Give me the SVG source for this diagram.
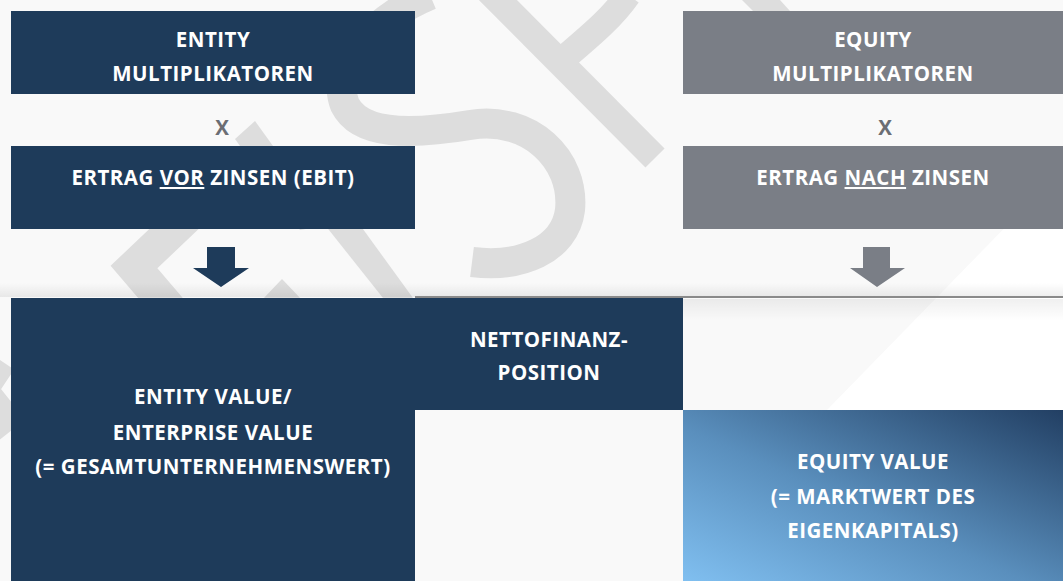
<svg xmlns="http://www.w3.org/2000/svg" width="1063" height="581" viewBox="0 0 1063 581">
<defs>
<style>
.dark{fill:#1e3b5a}
.gray{fill:#7a7e86}
.t{font-family:"Open Sans","Liberation Sans",sans-serif;font-weight:700;font-size:20.5px;letter-spacing:0.5px;fill:#ffffff;text-anchor:middle}
.x{font-family:"Open Sans","Liberation Sans",sans-serif;font-weight:700;font-size:20.5px;fill:#6b6e74;text-anchor:middle}
.wm{fill:none;stroke:#dddddd}
</style>
<linearGradient id="eq" x1="0" y1="1" x2="1" y2="0">
<stop offset="0" stop-color="#80bff0"/>
<stop offset="0.45" stop-color="#5a8fbd"/>
<stop offset="1" stop-color="#223f63"/>
</linearGradient>
<linearGradient id="shUp" x1="0" y1="0" x2="0" y2="1">
<stop offset="0" stop-color="#000" stop-opacity="0"/>
<stop offset="1" stop-color="#000" stop-opacity="0.07"/>
</linearGradient>
<linearGradient id="shDown" x1="0" y1="0" x2="0" y2="1">
<stop offset="0" stop-color="#000" stop-opacity="0.06"/>
<stop offset="1" stop-color="#000" stop-opacity="0"/>
</linearGradient>
</defs>
<rect x="0" y="0" width="1063" height="581" fill="#f9f9f9"/>
<polygon points="1063,168 1063,410 827,410" fill="#ffffff"/>
<g id="watermark">
<path class="wm" stroke-width="27" d="M478 -20 L655 158"/>
<path class="wm" stroke-width="26" d="M562 60 C590 36 612 18 628 -5"/>
<path class="wm" stroke-width="30" d="M430 -5 C370 20 330 70 345 105 C360 135 410 135 470 125 C530 115 575 160 570 210 C565 250 520 268 472 262"/>
<path class="wm" stroke-width="34" d="M215 190 L134 267 L175 315"/>
<path class="wm" stroke-width="34" d="M0 360 L-20 390 L12 430"/>
<polygon points="255,121 235,139 300,230 330,225" fill="#dddddd"/>
<polygon points="282,279 262,300 302,300" fill="#dddddd"/>
<polygon points="325,225 360,225 413,298 383,298" fill="#dddddd"/>
<polygon points="742,0 780,0 790,11 753,11" fill="#dddddd"/>
</g>
<rect x="0" y="283" width="1063" height="14" fill="url(#shUp)"/>
<rect x="415" y="299" width="648" height="22" fill="url(#shDown)"/>
<g id="connectors">
<line x1="415" y1="297" x2="1063" y2="297" stroke="#8a8a8a" stroke-width="2"/>
<polygon class="dark" points="207,247 235,247 235,268 249,268 221,287 193,268 207,268"/>
<polygon class="gray" points="863,247 890,247 890,268 905,268 877,287 850,268 863,268"/>
</g>
<g id="entity-multiplikatoren">
<rect class="dark" x="11" y="11" width="404" height="83"/>
<text class="t" x="213" y="47">ENTITY</text>
<text class="t" x="213" y="81">MULTIPLIKATOREN</text>
</g>
<g id="equity-multiplikatoren">
<rect class="gray" x="683" y="11" width="380" height="83"/>
<text class="t" x="873" y="47">EQUITY</text>
<text class="t" x="873" y="81">MULTIPLIKATOREN</text>
</g>
<g id="x-left"><text class="x" x="222" y="135">X</text></g>
<g id="x-right"><text class="x" x="885" y="135">X</text></g>
<g id="ertrag-vor">
<rect class="dark" x="11" y="146" width="404" height="83"/>
<text class="t" x="213" y="185">ERTRAG <tspan text-decoration="underline">VOR</tspan> ZINSEN (EBIT)</text>
</g>
<g id="ertrag-nach">
<rect class="gray" x="683" y="146" width="380" height="83"/>
<text class="t" x="873" y="185">ERTRAG <tspan text-decoration="underline">NACH</tspan> ZINSEN</text>
</g>
<g id="entity-value">
<rect class="dark" x="11" y="298" width="404" height="283"/>
<text class="t" x="213" y="404">ENTITY VALUE/</text>
<text class="t" x="213" y="440">ENTERPRISE VALUE</text>
<text class="t" x="213" y="474">(= GESAMTUNTERNEHMENSWERT)</text>
</g>
<g id="nettofinanzposition">
<rect class="dark" x="415" y="298" width="268" height="112"/>
<text class="t" x="549" y="347">NETTOFINANZ-</text>
<text class="t" x="549" y="380">POSITION</text>
</g>
<g id="equity-value">
<rect x="683" y="410" width="380" height="171" fill="url(#eq)"/>
<text class="t" x="873" y="469">EQUITY VALUE</text>
<text class="t" x="873" y="504">(= MARKTWERT DES</text>
<text class="t" x="873" y="538">EIGENKAPITALS)</text>
</g>
</svg>
